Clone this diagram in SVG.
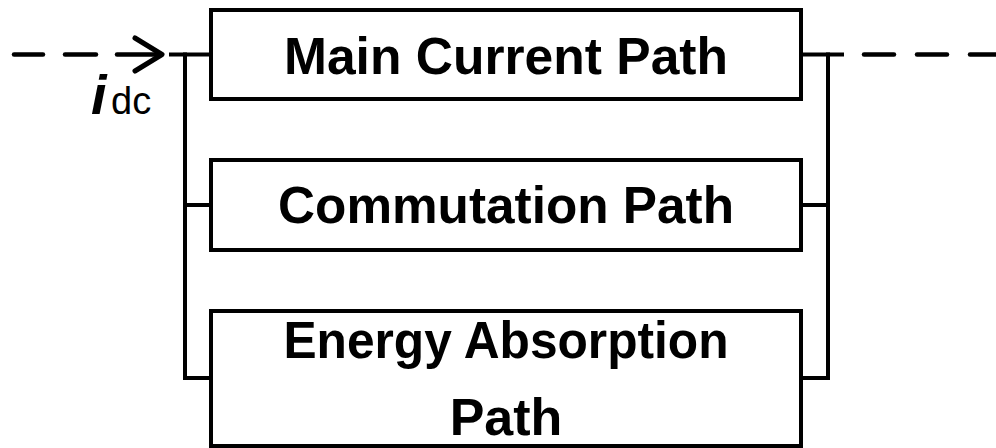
<svg xmlns="http://www.w3.org/2000/svg" width="996" height="448" viewBox="0 0 996 448">
  <style>
    .box { fill: #ffffff; stroke: #000000; stroke-width: 4; }
    .wire { fill: none; stroke: #000000; stroke-width: 4; stroke-linecap: square; }
    .dash { fill: none; stroke: #000000; stroke-width: 4.5; stroke-linecap: round; }
    .arrow { fill: none; stroke: #000000; stroke-width: 5; stroke-linecap: round; stroke-linejoin: round; }
    .label { font-family: "Liberation Sans", Arial, sans-serif; font-weight: bold; font-size: 52px; fill: #000000; text-anchor: middle; }
    .sym { font-family: "Liberation Sans", Arial, sans-serif; fill: #000000; }
  </style>
  <rect width="996" height="448" fill="#ffffff"/>

  <!-- connectors: input/output leads and the two parallel busbars -->
  <g id="connectors">
    <line class="dash" x1="14" y1="54.5" x2="43" y2="54.5"/>
    <line class="dash" x1="65" y1="54.5" x2="96" y2="54.5"/>
    <line class="dash" x1="117" y1="54.5" x2="160" y2="54.5"/>
    <polyline class="arrow" points="135,38 162,54.5 135,71"/>
    <polyline class="wire" points="171,54.5 211,54.5"/>
    <polyline class="wire" points="185,54.5 185,378 211,378"/>
    <line class="wire" x1="185" y1="205" x2="211" y2="205"/>
    <polyline class="wire" points="801,54.5 842,54.5"/>
    <polyline class="wire" points="828,54.5 828,378 801,378"/>
    <line class="wire" x1="801" y1="205" x2="828" y2="205"/>
    <line class="dash" x1="864" y1="54.5" x2="894" y2="54.5"/>
    <line class="dash" x1="917" y1="54.5" x2="947" y2="54.5"/>
    <line class="dash" x1="970" y1="54.5" x2="1000" y2="54.5"/>
  </g>

  <g id="idc-label">
    <text class="sym" x="91" y="114" font-size="56" font-weight="bold" font-style="italic">i</text>
    <text class="sym" x="111" y="114" font-size="38">dc</text>
  </g>

  <g id="main-current-path">
    <rect class="box" x="211" y="10" width="590" height="89"/>
    <text class="label" x="506" y="74" textLength="444" lengthAdjust="spacingAndGlyphs">Main Current Path</text>
  </g>

  <g id="commutation-path">
    <rect class="box" x="211" y="160" width="590" height="90"/>
    <text class="label" x="506" y="223" textLength="456" lengthAdjust="spacingAndGlyphs">Commutation Path</text>
  </g>

  <g id="energy-absorption-path">
    <rect class="box" x="211" y="311" width="590" height="135"/>
    <text class="label" x="506" y="358" textLength="445" lengthAdjust="spacingAndGlyphs">Energy Absorption</text>
    <text class="label" x="506" y="435">Path</text>
  </g>
</svg>
